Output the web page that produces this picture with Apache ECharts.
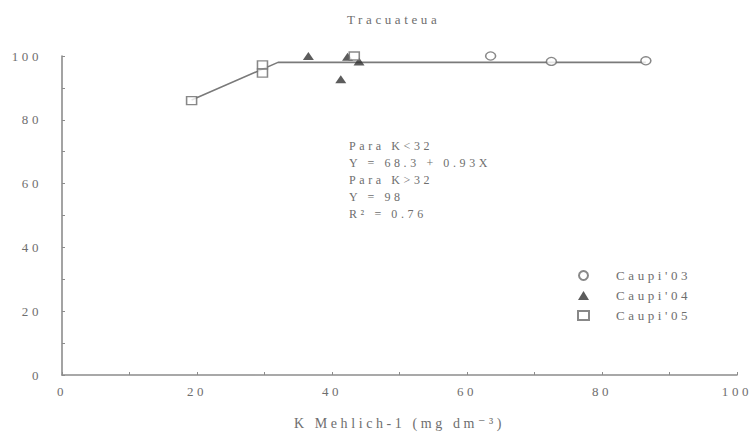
<!DOCTYPE html>
<html>
<head>
<meta charset="utf-8">
<script src="https://cdn.jsdelivr.net/npm/echarts@6/dist/echarts.min.js"></script>
<style>
  html, body { margin: 0; padding: 0; background: #fff; }
  #chart { width: 753px; height: 436px; }
  /* the scanned figure has wide, letter-spaced type */
  #chart svg text { letter-spacing: 3.6px; }
</style>
</head>
<body>
<div id="chart"></div>
<script>
// values: [K Mehlich-1, relative yield]
const caupi03 = [[63.5, 100], [72.5, 98.3], [86.5, 98.5]];
const caupi04 = [[36.5, 100], [41.3, 92.7], [42.3, 99.8], [44, 98.3]];
const caupi05 = [[19.2, 86], [29.7, 97.2], [29.7, 94.6], [43.3, 100]];
// fitted plateau model: Y = 68.3 + 0.93X for K<32, Y = 98 above
const fitLine = [[19.2, 86.2], [32, 98], [86.5, 98]];
const equationLines = ['Para K<32', 'Y = 68.3 + 0.93X', 'Para K>32', 'Y = 98', 'R\u00B2 = 0.76'];

const serif = '"Liberation Serif", "DejaVu Serif", serif';
const textGray = '#6e6e6e';
const axisGray = '#8c8c8c';

const chart = echarts.init(document.getElementById('chart'), null, { renderer: 'svg' });

const axisCommon = {
  min: 0,
  max: 100,
  interval: 10,
  axisLine: { show: true, lineStyle: { color: axisGray, width: 1.6 } },
  axisTick: { show: true, inside: true, length: 3, lineStyle: { color: axisGray } },
  splitLine: { show: false },
  axisLabel: {
    color: textGray,
    fontFamily: serif,
    fontSize: 13,
    formatter: v => (v % 20 === 0 ? String(v) : '')
  }
};

const option = {
  backgroundColor: '#fff',
  animation: false,
  title: {
    text: 'Tracuateua',
    left: 342,
    top: 8,
    textStyle: { color: textGray, fontFamily: serif, fontSize: 13, fontWeight: 'normal' }
  },
  grid: { left: 62, right: 16, top: 56, bottom: 61 },
  xAxis: Object.assign({}, axisCommon, {
    type: 'value',
    name: 'K Mehlich-1 (mg dm\u207B\u00B3)',
    nameLocation: 'middle',
    nameGap: 41,
    nameTextStyle: { color: textGray, fontFamily: serif, fontSize: 14 },
    axisLabel: Object.assign({}, axisCommon.axisLabel, { margin: 10 })
  }),
  yAxis: Object.assign({}, axisCommon, {
    type: 'value',
    axisLabel: Object.assign({}, axisCommon.axisLabel, { margin: 20 })
  }),
  legend: {
    orient: 'vertical',
    left: 572,
    top: 264,
    itemWidth: 11,
    itemHeight: 9,
    itemGap: 7,
    textStyle: { color: textGray, fontFamily: serif, fontSize: 13, padding: [0, 0, 0, 22] },
    data: ["Caupi'03", "Caupi'04", "Caupi'05"]
  },
  graphic: [{
    type: 'text',
    left: 349,
    top: 137,
    style: {
      text: equationLines.join('\n'),
      fill: textGray,
      font: '12px ' + serif,
      lineHeight: 17
    }
  }],
  series: [
    {
      name: 'fit',
      type: 'line',
      data: fitLine,
      showSymbol: false,
      symbol: 'none',
      lineStyle: { color: '#7a7a7a', width: 1.6 },
      z: 1
    },
    {
      name: "Caupi'03",
      type: 'scatter',
      data: caupi03,
      symbol: 'circle',
      symbolSize: [10, 8],
      itemStyle: { color: '#fff', borderColor: '#6a6a6a', borderWidth: 1.4 },
      z: 3
    },
    {
      name: "Caupi'04",
      type: 'scatter',
      data: caupi04,
      symbol: 'triangle',
      symbolSize: [11, 8],
      itemStyle: { color: '#333' },
      z: 3
    },
    {
      name: "Caupi'05",
      type: 'scatter',
      data: caupi05,
      symbol: 'rect',
      symbolSize: [10, 8],
      itemStyle: { color: '#fff', borderColor: '#6a6a6a', borderWidth: 1.4 },
      z: 3
    }
  ]
};

chart.setOption(option);
</script>
</body>
</html>
